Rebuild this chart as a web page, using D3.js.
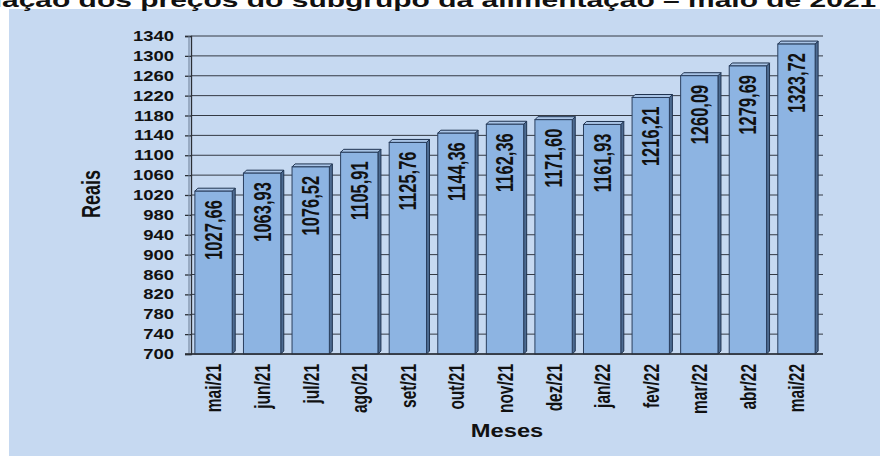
<!DOCTYPE html>
<html>
<head>
<meta charset="utf-8">
<script src="https://cdn.jsdelivr.net/npm/d3@7"></script>
<style>
  html, body { margin: 0; padding: 0; background: #ffffff; }
  svg { display: block; font-family: "Liberation Sans", Arial, sans-serif; }
</style>
</head>
<body>
<svg id="chart" width="880" height="456"></svg>
<script>
// dados do grafico
const meses = ["mai/21", "jun/21", "jul/21", "ago/21", "set/21", "out/21", "nov/21",
               "dez/21", "jan/22", "fev/22", "mar/22", "abr/22", "mai/22"];
const valores = [1027.66, 1063.93, 1076.52, 1105.91, 1125.76, 1144.36, 1162.36,
                 1171.60, 1161.93, 1216.21, 1260.09, 1279.69, 1323.72];
const ticksY = [700, 740, 780, 820, 860, 900, 940, 980, 1020, 1060, 1100, 1140,
                1180, 1220, 1260, 1300, 1340];
const titulo = "Variação dos preços do subgrupo da alimentação – maio de 2021 a maio de 2022";

const W = 880, H = 456;
const stretch = 1.32;  // texto horizontal esticado como na imagem original
const stretchV = 1.42; // texto girado
const depth = 3;       // profundidade do efeito 3D

let svg = d3.select("#chart");

// fundo do painel
svg.append("rect")
    .attr("x", 9).attr("y", 9)
    .attr("width", W - 9).attr("height", H - 9)
    .attr("fill", "#c6d9f1");

let xScale = d3.scaleBand()
    .domain(meses)
    .range([191, 822])
    .paddingInner(0.17)
    .paddingOuter(0.08);

let yScale = d3.scaleLinear()
    .domain([700, 1340])
    .range([354, 36]);

// linhas de grade
svg.append("g")
    .selectAll("line")
    .data(ticksY)
    .enter()
    .append("line")
    .attr("x1", 191).attr("x2", 823)
    .attr("y1", d => yScale(d)).attr("y2", d => yScale(d))
    .attr("stroke", "#343a44")
    .attr("stroke-width", 1);

// eixo Y
let yAxis = d3.axisLeft(yScale)
    .tickValues(ticksY)
    .tickSize(6)
    .tickFormat("");

svg.append("g")
    .attr("transform", "translate(191,0)")
    .call(yAxis)
    .call(g => g.selectAll("path, line").attr("stroke", "#2b2f36").attr("stroke-width", 1.3));

svg.append("line")
    .attr("x1", 189).attr("x2", 189)
    .attr("y1", yScale(1340)).attr("y2", yScale(700))
    .attr("stroke", "#6b7d95").attr("stroke-width", 1);

// rotulos do eixo Y
svg.append("g")
    .selectAll("text")
    .data(ticksY)
    .enter()
    .append("text")
    .attr("transform", d => "translate(174," + (yScale(d) + 5) + ") scale(" + stretch + ",1)")
    .attr("text-anchor", "end")
    .attr("font-size", 14)
    .attr("font-weight", "bold")
    .attr("fill", "#111")
    .text(d => d);

// barras 3D
let dataset = meses.map((m, i) => ({ mes: m, v: valores[i] }));
let bw = xScale.bandwidth() - depth;
let base = yScale(700);

let barras = svg.append("g")
    .selectAll("g")
    .data(dataset)
    .enter()
    .append("g");

// face lateral
barras.append("polygon")
    .attr("points", d => {
        let x = xScale(d.mes) + bw, y = yScale(d.v);
        return [[x, y], [x + depth, y - depth], [x + depth, base - depth], [x, base]].join(" ");
    })
    .attr("fill", "#4d6b91")
    .attr("stroke", "#1f3350")
    .attr("stroke-width", 1);

// face superior
barras.append("polygon")
    .attr("points", d => {
        let x = xScale(d.mes), y = yScale(d.v);
        return [[x, y], [x + depth, y - depth], [x + bw + depth, y - depth], [x + bw, y]].join(" ");
    })
    .attr("fill", "#a9c4e6")
    .attr("stroke", "#1f3350")
    .attr("stroke-width", 1);

// face frontal
barras.append("rect")
    .attr("x", d => xScale(d.mes))
    .attr("y", d => yScale(d.v))
    .attr("width", bw)
    .attr("height", d => base - yScale(d.v))
    .attr("fill", "#8db4e2")
    .attr("stroke", "#2a3f5e")
    .attr("stroke-width", 1);

// valores nas barras
barras.append("text")
    .attr("transform", d => "translate(" + (xScale(d.mes) + bw / 2) + "," + (yScale(d.v) + 9) + ") rotate(-90) scale(1," + stretchV + ")")
    .attr("text-anchor", "end")
    .attr("dy", "0.36em")
    .attr("font-size", 16.5)
    .attr("font-weight", "bold")
    .attr("fill", "#111")
    .text(d => d.v.toFixed(2).replace(".", ","));

// chao
svg.append("line")
    .attr("x1", 185).attr("x2", 823)
    .attr("y1", base).attr("y2", base)
    .attr("stroke", "#2b2f36").attr("stroke-width", 1.3);

// rotulos do eixo X
svg.append("g")
    .selectAll("text")
    .data(meses)
    .enter()
    .append("text")
    .attr("transform", d => "translate(" + (xScale(d) + bw / 2) + ",364) rotate(-90) scale(1," + stretchV + ")")
    .attr("text-anchor", "end")
    .attr("dy", "0.36em")
    .attr("font-size", 15.5)
    .attr("font-weight", "bold")
    .attr("fill", "#111")
    .text(d => d);

// titulos dos eixos
svg.append("text")
    .attr("transform", "translate(507,437) scale(" + stretch + ",1)")
    .attr("text-anchor", "middle")
    .attr("font-size", 18)
    .attr("font-weight", "bold")
    .attr("fill", "#111")
    .text("Meses");

svg.append("text")
    .attr("transform", "translate(91,194) rotate(-90) scale(1," + stretchV + ")")
    .attr("text-anchor", "middle")
    .attr("dy", "0.36em")
    .attr("font-size", 18)
    .attr("font-weight", "bold")
    .attr("fill", "#111")
    .text("Reais");

// titulo (cortado no topo e nas laterais, como na imagem)
let t = svg.append("text")
    .attr("y", 7)
    .attr("font-size", 20)
    .attr("font-weight", "bold")
    .attr("fill", "#111")
    .text(titulo);

let node = t.node();
let i0 = titulo.indexOf("ação dos");
let i1 = titulo.indexOf("2021") + 3;
let x0 = node.getStartPositionOfChar(i0).x;
let x1 = node.getEndPositionOfChar(i1).x;
let sx = (877 - 2) / (x1 - x0);
t.attr("transform", "translate(" + (2 - x0 * sx) + ",0) scale(" + sx + ",1)");
</script>
</body>
</html>
